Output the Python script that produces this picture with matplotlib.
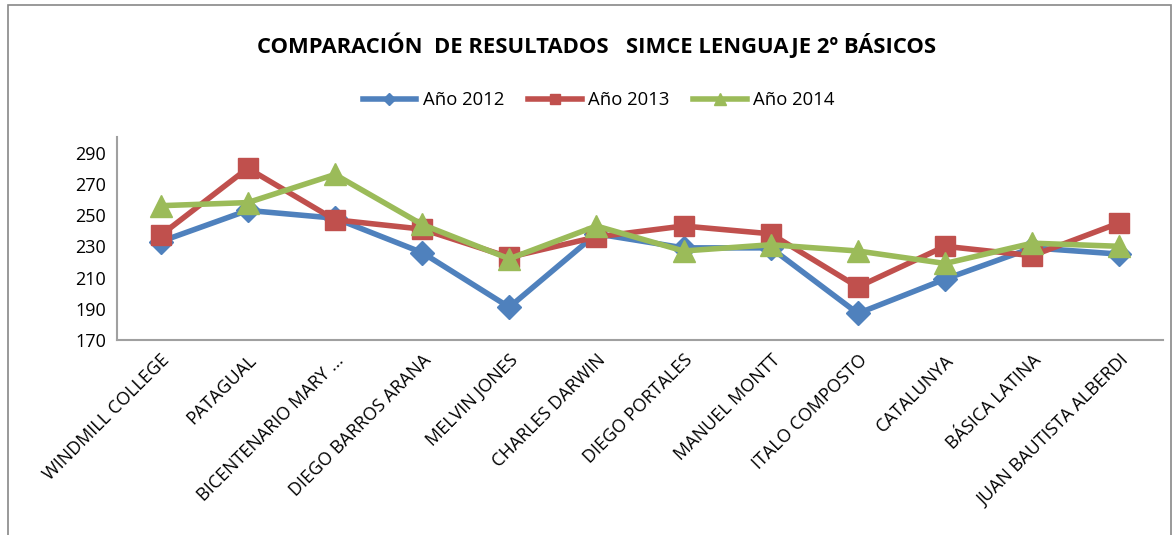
import matplotlib.pyplot as plt
import matplotlib.patches as mpatches

plt.rcParams['font.family'] = ['Open Sans', 'DejaVu Sans']

schools = ['WINDMILL COLLEGE', 'PATAGUAL', 'BICENTENARIO MARY ...', 'DIEGO BARROS ARANA',
           'MELVIN JONES', 'CHARLES DARWIN', 'DIEGO PORTALES', 'MANUEL MONTT',
           'ITALO COMPOSTO', 'CATALUNYA', 'BÁSICA LATINA', 'JUAN BAUTISTA ALBERDI']
y2012 = [233, 253, 248, 226, 191, 238, 229, 229, 187, 209, 229, 225]
y2013 = [237, 280, 247, 241, 223, 236, 243, 238, 204, 230, 224, 245]
y2014 = [256, 258, 276, 244, 222, 243, 227, 231, 227, 219, 232, 230]
yticks = [170, 190, 210, 230, 250, 270, 290]

fig = plt.figure(figsize=(11.74, 5.35), dpi=100)
ax = fig.add_axes([117 / 1174, 1 - 340 / 535, 1046 / 1174, 203 / 535])

x = range(len(schools))
ax.plot(x, y2012, color='#4F81BD', lw=4, marker='D', ms=12, label='Año 2012')
ax.plot(x, y2013, color='#C0504D', lw=4, marker='s', ms=15, label='Año 2013')
ax.plot(x, y2014, color='#9BBB59', lw=4, marker='^', ms=16, label='Año 2014')

ax.set_xlim(-0.5, len(schools) - 0.5)
ax.set_ylim(170, 300)
ax.set_yticks(yticks)
ax.set_xticks(list(x))
ax.set_xticklabels(schools, rotation=45, ha='right', rotation_mode='anchor')
ax.tick_params(length=0, labelsize=13, pad=8)
for s in ['top', 'right']:
    ax.spines[s].set_visible(False)
for s in ['left', 'bottom']:
    ax.spines[s].set_color('#A0A0A0')
    ax.spines[s].set_linewidth(1.5)

fig.text(0.508, 1 - 45 / 535, 'COMPARACIÓN  DE RESULTADOS   SIMCE LENGUAJE 2º BÁSICOS',
         ha='center', va='center', fontsize=15.8, fontweight='bold')
fig.legend(loc='center', bbox_to_anchor=(0.51, 1 - 100 / 535), ncol=3, frameon=False,
           fontsize=13.3, markerscale=0.5, handlelength=2.9, columnspacing=1.3,
           handletextpad=0.35)

fig.patches.append(mpatches.Rectangle((8 / 1174, -0.01), 1163 / 1174, 1.0, transform=fig.transFigure,
                                      fill=False, edgecolor='#888888', lw=1.2))

fig.savefig('out.png', dpi=100)
